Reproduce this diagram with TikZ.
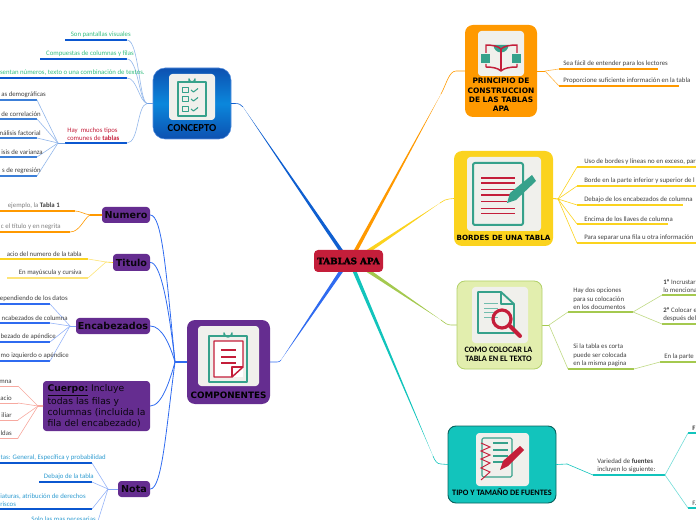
\documentclass[tikz,border=0pt]{standalone}
\usepackage{fontspec}
\setmainfont{Carlito}
\newfontfamily\headfont{DejaVu Sans}
\newfontfamily\slabfont[BoldFeatures={FakeBold=2.5}]{DejaVu Serif}
\usetikzlibrary{calc}
\definecolor{cblue}{HTML}{0F5FD0}
\definecolor{lblue}{HTML}{2F6BF0}
\definecolor{cpurple}{HTML}{652D90}
\definecolor{corange}{HTML}{FF9900}
\definecolor{cyellow}{HTML}{FBD31E}
\definecolor{cgreen}{HTML}{A4C94F}
\definecolor{cteal}{HTML}{12C4BC}
\definecolor{ccrim}{HTML}{C41E3A}
\definecolor{ciconteal}{HTML}{36A18B}
\definecolor{cimg}{HTML}{F0F0EC}
\definecolor{ctext}{HTML}{404040}
\definecolor{cpink}{HTML}{F7A9A0}
\definecolor{cmint}{HTML}{35BE80}
\definecolor{cblt}{HTML}{0B57D0}
\definecolor{cnote}{HTML}{2E9BD0}
\definecolor{csub}{HTML}{3C7FD8}
\tikzset{
  box/.style={rounded corners=6pt,inner sep=0pt},
  imgbox/.style={fill=cimg,rounded corners=2.5pt},
  itxt/.style={inner sep=0pt,font=\fontsize{5.1pt}{6.4pt}\selectfont,text=ctext,align=left},
  boxlab/.style={inner sep=0pt,font=\headfont\bfseries\fontsize{5.6pt}{6.9pt}\selectfont,align=center,text=black},
  tag/.style={box,fill=cpurple,rounded corners=2.5pt,font=\headfont\bfseries\fontsize{7.2pt}{8pt}\selectfont,text=black!90!cpurple},
  ic/.style={draw=ciconteal,line width=1.1pt,line join=round},
  ir/.style={draw=ccrim,line width=1.1pt,line join=round},
  wire/.style={line width=.45pt,line cap=round},
  under/.style={line width=1.1pt},
}
\newcommand{\taper}[3]{\fill[#1] ($(#2)!1.4pt!90:(#3)$) -- (#3) -- ($(#2)!1.4pt!-90:(#3)$) -- cycle;}
\newcommand{\leafline}[5]{\coordinate (#1a) at (#2,#4);\coordinate (#1b) at (#3,#4);\draw[under,#5] (#1a) -- (#1b);}
\newcommand{\swire}[3]{\draw[wire,#1] (#2) .. controls ($(#2)!.5!(#3)$ |- #2) and ($(#2)!.5!(#3)$ |- #3) .. (#3);}
\begin{document}
\begin{tikzpicture}[x=.75pt,y=-.75pt]
\useasboundingbox (0,0) rectangle (696,520);
\clip (0,0) rectangle (696,520);

\coordinate (mc1) at (342,252);\coordinate (bc1) at (243,107);
\coordinate (mc2) at (342,270);\coordinate (bc2) at (281,360);
\coordinate (mc3) at (355,252);\coordinate (bc3) at (441,94);
\coordinate (mc4) at (367,252);\coordinate (bc4) at (440,203);
\coordinate (mc5) at (367,270);\coordinate (bc5) at (441,320);
\coordinate (mc6) at (354,270);\coordinate (bc6) at (433,456);

\taper{cblue}{mc1}{bc1}
\taper{lblue}{mc2}{bc2}
\taper{corange}{mc3}{bc3}
\taper{cyellow}{mc4}{bc4}
\taper{cgreen}{mc5}{bc5}
\taper{cteal}{mc6}{bc6}

\node[box,minimum width=69*.75pt,minimum height=22*.75pt,fill=ccrim,rounded corners=3pt] (center) at (348.5,261) {\slabfont\bfseries\fontsize{6.6pt}{7pt}\selectfont TABLAS APA};

\node[box,minimum width=78*.75pt,minimum height=71*.75pt,rounded corners=9pt,draw=cblue!70,line width=.4pt,top color=cblue!85!black,bottom color=cblue!85!black,middle color=cblue!75!cyan] (concepto) at (192,103.5) {};
\node[box,minimum width=83*.75pt,minimum height=84*.75pt,fill=cpurple] (comp) at (228.5,362) {};
\node[box,minimum width=72*.75pt,minimum height=92*.75pt,fill=corange] (princ) at (501,71) {};
\node[box,minimum width=99*.75pt,minimum height=95*.75pt,fill=cyellow] (bord) at (503.5,198.5) {};
\node[box,minimum width=85*.75pt,minimum height=88*.75pt,fill=cgreen!35!white!90!yellow,draw=cgreen!85,line width=.6pt] (como) at (499.5,325) {};
\node[box,minimum width=108*.75pt,minimum height=77*.75pt,fill=cteal,draw=cteal!50!black,line width=.7pt] (tipo) at (502,464.5) {};

\draw[wire,cblue] (concepto.east) -- (235,103.5) .. controls (239,103.5) and (241,104.5) .. (bc1);
\draw[wire,lblue] (comp.east) -- (277,362) .. controls (279,362) and (280,361.5) .. (bc2);
\draw[wire,corange] (princ.west) -- (456,71) .. controls (449,71) and (446,85) .. (bc3);
\draw[wire,cyellow] (bord.west) -- (449,199) .. controls (446,199) and (444,200.5) .. (bc4);
\draw[wire,cgreen] (como.west) -- (451,325) .. controls (447,325) and (445,323) .. (bc5);
\draw[wire,cteal] (tipo.west) -- (441,464) .. controls (437,464) and (435,461) .. (bc6);

% icons
\fill[imgbox] (169,74) rectangle (215,120);
\draw[ic] (178,82) rectangle (206,116);
\draw[ic] (189,82) -- (189,79) arc (180:0:3) -- (195,82);
\foreach \yy in {87,96,106}{
  \draw[ic,line width=.7pt] (182,\yy) rectangle +(6,5.5);
  \draw[ic,line width=.8pt] (191,\yy+3) -- +(2.5,2) -- +(7,-1.5);
}
\node[boxlab,font=\bfseries\fontsize{8pt}{8pt}\selectfont] (conceptolab) at (192,128) {CONCEPTO};

\fill[imgbox] (198,326) rectangle (259,386);
\draw[ic,line width=1.3pt] (209,336) rectangle (247,382);
\draw[ic] (224,336) -- (224,333) arc (180:0:4) -- (232,336);
\fill[white] (214,341) rectangle (243,377);
\draw[ir] (214,341) -- (243,341) -- (243,367) -- (232,377) -- (214,377) -- cycle;
\draw[ir] (243,367) -- (232,367) -- (232,377);
\foreach \yy in {350,357,363}{\draw[ir,line width=.8pt] (221,\yy) -- (236,\yy);}
\node[boxlab,font=\headfont\bfseries\fontsize{6.6pt}{7pt}\selectfont] (complab) at (228.5,395) {COMPONENTES};

\fill[imgbox] (478,31) rectangle (524,76);
\fill[ciconteal] (493.5,45) arc (180:0:7.5) -- cycle;
\fill[ciconteal] (481,54) rectangle (490,63);\fill[ciconteal] (512,54) rectangle (521,63);
\draw[ir] (486,53) -- (486,45) .. controls (492,45) and (498,46) .. (501,49) .. controls (504,46) and (510,45) .. (517,45) -- (517,53);
\draw[ir] (486,64) -- (486,67) .. controls (492,67) and (498,68) .. (501,71) .. controls (504,68) and (510,67) .. (517,67) -- (517,64);
\draw[ir] (501,49) -- (501,71);
\node[boxlab] (princlab) at (501,95) {PRINCIPIO DE\\CONSTRUCCION\\DE LAS TABLAS\\APA};

\fill[imgbox] (467,157) rectangle (541,231);
\draw[ic,line width=1.5pt,rounded corners=1.5pt] (473,163) rectangle (523,225);
\foreach \yy in {178,183,195}{\draw[ccrim,line width=1.6pt] (481,\yy) -- (515,\yy);}
\draw[ccrim,line width=.7pt] (481,189) -- (515,189);
\draw[ccrim,line width=.7pt] (481,201) -- (507,201);
\draw[ccrim,line width=.7pt] (481,208) -- (515,208);
\draw[ccrim,line width=.7pt] (481,213) -- (515,213);
\fill[ciconteal] (507,203) -- (510,193) -- (532,175) -- (536,181) -- (516,200) -- cycle;
\node[boxlab,font=\headfont\bfseries\fontsize{5.35pt}{7pt}\selectfont] (bordlab) at (503.5,237.5) {BORDES DE UNA TABLA};

\fill[imgbox] (472,287) rectangle (528,343);
\draw[ic,line width=1.4pt] (478,292) -- (501,292) -- (514,304) -- (514,333) -- (478,333) -- cycle;
\draw[ic,line width=.8pt] (501,292) -- (501,304) -- (514,304);
\foreach \yy in {303,308,312,317}{\draw[ciconteal!70,line width=.5pt] (484,\yy) -- (498,\yy);}
\draw[ccrim,line width=2.4pt] (502,319) circle (9);
\draw[ccrim,line width=3pt,line cap=round] (510,326) -- (520,336);
\node[boxlab,font=\bfseries\fontsize{6.2pt}{7pt}\selectfont] (comolab) at (498.5,354.5) {COMO COLOCAR LA\\TABLA EN EL TEXTO};

\fill[imgbox] (476,433) rectangle (529,486);
\draw[ic,line width=.8pt,rounded corners=1pt] (482,438) rectangle (512,477);
\foreach \yy in {443,450,456,462}{\draw[ciconteal,line width=1pt] (493,\yy) -- (508,\yy);}
\draw[ccrim,line width=.7pt] (481,443) -- (490,447) -- (481,451) -- (490,455) -- (481,459) -- (490,463) -- (481,468) -- (490,472) -- (481,480);
\fill[ccrim] (500,470) -- (503,461) -- (520,446) -- (524,450) -- (508,466) -- cycle;
\node[boxlab,font=\bfseries\fontsize{6.2pt}{7pt}\selectfont] (tipolab) at (502,492.5) {TIPO Y TAMAÑO DE FUENTES};

% CONCEPTO leaves
\coordinate (cW) at (147,103.5);\draw[wire,cblue!60] (concepto.west) -- (cW);
\leafline{k1}{65}{127}{40}{cblt}
\leafline{k2}{40}{127}{59}{cblt}
\leafline{k3}{0}{127}{78}{cblt}
\leafline{k4}{65}{127}{143}{cblt}
\draw[wire,cblue!45] (cW) .. controls (139,101) and (139,40) .. (k1b);
\draw[wire,cblue!45] (cW) .. controls (139,101) and (138,59) .. (k2b);
\draw[wire,cblue!45] (cW) .. controls (139,101) and (137,78) .. (k3b);
\draw[wire,cblue!45] (cW) .. controls (137,105) and (139,143) .. (k4b);
\node[itxt,text=cmint,anchor=south east] (t1) at (131,38) {Son pantallas visuales};
\node[itxt,text=cmint,anchor=south east] (t2) at (134,57) {Compuestas de columnas y filas};
\node[itxt,text=cmint,anchor=south east] (t3) at (145,76) {sentan números, texto o una combinación de textos.};
\node[itxt,text=ccrim,anchor=south west] (t4) at (67,141) {Hay \ muchos tipos\\comunes de \textbf{tablas}};
\coordinate (kS) at (58,143);
\draw[wire,cblue!60] (k4a) -- (kS);
\foreach \n/\yy in {s1/100,s2/119,s3/138,s4/157,s5/176}{
  \leafline{\n}{0}{37}{\yy}{csub}
  \swire{cblue!45}{kS}{\n b}
}
\node[itxt,anchor=south east] (st1) at (46,98) {as demográficas};
\node[itxt,anchor=south east] (st2) at (41,117) {de correlación};
\node[itxt,anchor=south east] (st3) at (41,136) {nálisis factorial};
\node[itxt,anchor=south east] (st4) at (43,155) {isis de varianza};
\node[itxt,anchor=south east] (st5) at (41,174) {s de regresión};

% COMPONENTES tags
\node[tag,minimum width=48*.75pt,minimum height=16*.75pt] (numero) at (126,215) {Numero};
\node[tag,minimum width=37*.75pt,minimum height=17*.75pt] (titulo) at (131.5,262.5) {Titulo};
\node[tag,minimum width=74*.75pt,minimum height=16*.75pt] (encab) at (113,326) {Encabezados};
\node[tag,minimum width=32*.75pt,minimum height=16*.75pt] (nota) at (134,489) {Nota};
\node[tag,minimum width=107*.75pt,minimum height=50*.75pt,align=left,font=\headfont\fontsize{6.9pt}{8.2pt}\selectfont] (cuerpo) at (96.5,406) {\textbf{\underline{Cuerpo:}} Incluye\\todas las filas y\\columnas (incluida la\\fila del encabezado)};
\coordinate (cJ) at (175,362);
\draw[wire,lblue,line width=.8pt] (comp.west) -- (cJ);
\draw[wire,lblue,line width=.6pt] (numero.east) .. controls (162,215) and (166,270) .. (cJ);
\draw[wire,lblue,line width=.6pt] (titulo.east) .. controls (160,262) and (168,300) .. (cJ);
\draw[wire,lblue,line width=.6pt] (encab.east) .. controls (162,326) and (170,345) .. (cJ);
\draw[wire,lblue,line width=.6pt] (cuerpo.east) .. controls (162,406) and (170,380) .. (cJ);
\draw[wire,lblue,line width=.6pt] (nota.east) .. controls (162,489) and (166,430) .. (cJ);

% Numero leaves
\coordinate (nJ) at (90,215);\draw[wire,corange,line width=.8pt] (numero.west) -- (nJ);
\leafline{n1}{0}{75}{211}{corange}\leafline{n2}{0}{70}{232}{corange}
\draw[wire,corange] (nJ) .. controls (84,214) and (80,211) .. (n1b);
\draw[wire,corange] (nJ) .. controls (84,218) and (80,232) .. (n2b);
\node[itxt,text=gray,anchor=south east] (nt1) at (60,209) {ejemplo, la \textbf{\textcolor{ctext}{Tabla 1}}};
\node[itxt,text=gray,anchor=south east] (nt2) at (61,230) {c el título y en negrita};
% Titulo leaves
\coordinate (tJ) at (106,262);\draw[wire,cyellow] (titulo.west) -- (tJ);
\leafline{w1}{0}{88}{259}{cyellow}\leafline{w2}{7}{88}{278}{cyellow!60}
\swire{cyellow!60}{tJ}{w1b}\swire{cyellow!60}{tJ}{w2b}
\node[itxt,anchor=south east] (wt1) at (82,257) {acio del numero de la tabla};
\node[itxt,anchor=south east] (wt2) at (82,276) {En mayúscula y cursiva};
% Encabezados leaves
\coordinate (eJ) at (70,326);\draw[wire,lblue!60] (encab.west) -- (eJ);
\foreach \n/\yy in {e1/304,e2/323,e3/342,e4/361}{
  \leafline{\n}{0}{50}{\yy}{lblue}
  \swire{lblue!50}{eJ}{\n b}
}
\node[itxt,anchor=south east] (et1) at (68,302) {ependiendo de los datos};
\node[itxt,anchor=south east] (et2) at (68,321) {ncabezados de columna};
\node[itxt,anchor=south east] (et3) at (56,340) {bezado de apéndice};
\node[itxt,anchor=south east] (et4) at (69,359) {mo izquierdo o apéndice};
% Cuerpo leaves
\coordinate (bJ) at (38,406);\draw[wire,cpink,line width=.8pt] (cuerpo.west) -- (bJ);
\foreach \n/\yy in {b1/386,b2/403,b3/420,b4/438}{
  \coordinate (\n a) at (0,\yy);\coordinate (\n b) at (18,\yy);
  \draw[wire,cpink] (\n a) -- (\n b);
  \swire{cpink}{bJ}{\n b}
}
\node[itxt,anchor=south east] (bt1) at (12,384) {mna};
\node[itxt,anchor=south east] (bt2) at (12,401) {acio};
\node[itxt,anchor=south east] (bt3) at (12,418) {iliar};
\node[itxt,anchor=south east] (bt4) at (12,436) {ldas};
% Nota leaves
\coordinate (oJ) at (108,489);\draw[wire,lblue!60] (nota.west) -- (oJ);
\leafline{o1}{0}{92}{463}{cblt}\leafline{o2}{39}{92}{482}{cblt}\leafline{o3}{0}{92}{509}{cblt}
\coordinate (o4b) at (97,524);
\foreach \n in {o1,o2,o3,o4}{\swire{lblue!50}{oJ}{\n b}}
\node[itxt,text=cnote,anchor=south east] (ot1) at (106,461) {tas: General, Específica y probabilidad};
\node[itxt,text=cnote,anchor=south east] (ot2) at (94,480) {Debajo de la tabla};
\node[itxt,text=cnote,anchor=south west] (ot3) at (0,507) {iaturas, atribución de derechos\\riscos};
\node[itxt,text=cnote,anchor=south east] (ot4) at (96,522) {Solo las mas necesarias};

% PRINCIPIO leaves
\coordinate (pJ) at (545,71);\draw[wire,corange] (princ.east) -- (pJ);
\leafline{p1}{559}{658}{69}{corange}\leafline{p2}{559}{679}{86}{corange}
\swire{corange!70}{pJ}{p1a}\swire{corange!70}{pJ}{p2a}
\node[itxt,anchor=south west] (pt1) at (563,67) {Sea fácil de entender para los lectores};
\node[itxt,anchor=south west] (pt2) at (563,84) {Proporcione suficiente información en la tabla};

% BORDES leaves
\coordinate (dJ) at (558,199);\draw[wire,cyellow,line width=.8pt] (bord.east) -- (dJ);
\foreach \n/\yy/\xe in {d1/167/700,d2/186/700,d3/205/683,d4/224/668,d5/243/700}{
  \leafline{\n}{577}{\xe}{\yy}{cyellow}
  \swire{cyellow}{dJ}{\n a}
}
\node[itxt,anchor=south west] (dt1) at (584,165) {Uso de bordes y líneas no en exceso, par};
\node[itxt,anchor=south west] (dt2) at (584,184) {Borde en la parte inferior y superior de l};
\node[itxt,anchor=south west] (dt3) at (584,203) {Debajo de los encabezados de columna};
\node[itxt,anchor=south west] (dt4) at (584,222) {Encima de los llaves de columna};
\node[itxt,anchor=south west] (dt5) at (584,241) {Para separar una fila u otra información};

% COMO leaves
\coordinate (cmJ) at (549,325);\draw[wire,cgreen] (como.east) -- (cmJ);
\leafline{a1}{568}{633}{312}{cgreen}\leafline{a2}{568}{634}{369}{cgreen}
\swire{cgreen!70}{cmJ}{a1a}\swire{cgreen!70}{cmJ}{a2a}
\node[itxt,anchor=south west] (at1) at (573,310) {Hay dos opciones\\para su colocación\\en los documentos};
\node[itxt,anchor=south west] (at2) at (573,367) {Si la tabla es corta\\puede ser colocada\\en la misma pagina};
\leafline{u1}{662}{700}{295}{cgreen}\leafline{u2}{662}{700}{324}{cgreen}\leafline{u3}{660}{700}{362}{cgreen}
\swire{cgreen!70}{a1b}{u1a}\swire{cgreen!70}{a1b}{u2a}\swire{cgreen!70}{a2b}{u3a}
\node[itxt,anchor=south west] (ut1) at (663,293) {\textbf{1º} Incrustar\\lo menciona};
\node[itxt,anchor=south west] (ut2) at (663,322) {\textbf{2º} Colocar e\\después del};
\node[itxt,anchor=south west] (ut3) at (664,360) {En la parte};

% TIPO leaves
\leafline{f0}{593}{665}{475}{cteal}
\coordinate (fJ) at (567,464);\draw[wire,cteal] (tipo.east) -- (fJ);
\swire{cteal}{fJ}{f0a}
\node[itxt,anchor=south west] (ft0) at (597,473) {Variedad de \textbf{fuentes}\\incluyen lo siguiente:};
\leafline{f1}{688}{700}{433}{cteal}\leafline{f2}{688}{700}{508}{cteal}
\swire{cteal!60}{f0b}{f1a}\swire{cteal!60}{f0b}{f2a}
\node[itxt,anchor=south west] (ft1) at (692,431) {\textbf{F}};
\node[itxt,anchor=south west] (ft2) at (692,506) {F.};
\end{tikzpicture}
\end{document}
